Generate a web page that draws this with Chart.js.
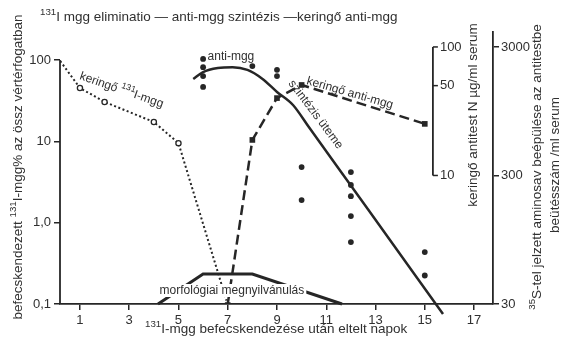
<!DOCTYPE html>
<html lang="hu">
<head>
<meta charset="utf-8">
<title>131I mgg eliminatio</title>
<script src="https://cdn.jsdelivr.net/npm/chart.js@4/dist/chart.umd.min.js"></script>
<style>
  html, body { margin: 0; padding: 0; background: #fff; }
  #wrap { width: 561px; height: 339px; }
</style>
</head>
<body>
<div id="wrap"><canvas id="chart" width="561" height="339"></canvas></div>
<script>
// days after injection
var xTicks = [1, 3, 5, 7, 9, 11, 13, 15, 17];
var leftTicks = [100, 10, 1, 0.1];
var leftLabels = ['100', '10', '1,0', '0,1'];
var sTicks = [3000, 300, 30];
var nTicks = [100, 50, 10];
var nAxisDay = 15.33;

// keringő 131I-mgg (% of total blood volume)
var iodDays = [0.2, 1, 2, 4, 5, 6.95];
var iodValues = [97, 45.3, 30.5, 17.3, 9.5, 0.11];
var iodMarked = [false, true, true, true, true, false];

// keringő anti-mgg (N µg/ml serum)
var antiDays = [7, 8, 9, 10, 15];
var antiValues = [1.0, 18.9, 40, 50.6, 25.2];

// 35S incorporation into antibody (counts/ml serum)
var dotDays = [6, 6, 6, 6, 8, 9, 9, 10, 10, 12, 12, 12, 12, 12, 15, 15];
var dotValues = [2420, 2090, 1780, 1465, 2130, 1990, 1780, 349, 193, 319, 253, 207, 145, 91, 76, 50];

// anti-mgg curve running into "szintézis üteme" line
var curveDays = [5.6, 6.0, 6.6, 7.2, 7.8, 8.4, 9.0, 9.65, 10.3, 12.7, 15.74];
var curveValues = [1690, 1915, 2060, 2090, 1990, 1700, 1340, 1060, 711, 163, 25.1];

// morphological manifestation band
var morphDays = [4.17, 6.0, 8.0, 11.64];
var morphValues = [0.1, 0.234, 0.234, 0.1];

var INK = '#262626';
var TXT = '#303030';
var FONT = "'Liberation Sans', Arial, sans-serif";

function pts(xs, ys) {
  return xs.map(function (d, i) { return { x: d, y: ys[i] }; });
}

// text with optional superscript runs
function drawRich(ctx, runs, x, y, angle, align, size) {
  ctx.save();
  ctx.translate(x, y);
  ctx.rotate(angle * Math.PI / 180);
  ctx.textAlign = 'left';
  ctx.textBaseline = 'alphabetic';
  ctx.fillStyle = TXT;
  var total = 0;
  runs.forEach(function (r) {
    ctx.font = (r.sup ? size * 0.72 : size) + 'px ' + FONT;
    r.w = ctx.measureText(r.t).width;
    total += r.w;
  });
  var cx = align === 'center' ? -total / 2 : 0;
  runs.forEach(function (r) {
    ctx.font = (r.sup ? size * 0.72 : size) + 'px ' + FONT;
    ctx.fillText(r.t, cx, r.sup ? -size * 0.45 : 0);
    cx += r.w;
  });
  ctx.restore();
  return total;
}

var decor = {
  id: 'decor',
  afterDatasetsDraw: function (chart) {
    var ctx = chart.ctx, s = chart.scales, area = chart.chartArea;
    var X = function (d) { return s.x.getPixelForValue(d); };

    ctx.save();
    ctx.strokeStyle = INK;
    ctx.lineWidth = 1.8;
    // left axis line, from 100 downwards
    ctx.beginPath();
    ctx.moveTo(area.left, s.y.getPixelForValue(100));
    ctx.lineTo(area.left, area.bottom);
    ctx.stroke();

    // inner N axis (keringő antitest)
    var nx = X(nAxisDay);
    ctx.beginPath();
    ctx.moveTo(nx, s.yN.getPixelForValue(nTicks[0]));
    ctx.lineTo(nx, s.yN.getPixelForValue(nTicks[nTicks.length - 1]));
    ctx.stroke();
    ctx.lineWidth = 1.5;
    ctx.font = '13px ' + FONT;
    ctx.fillStyle = TXT;
    ctx.textBaseline = 'middle';
    ctx.textAlign = 'left';
    nTicks.forEach(function (v) {
      var py = s.yN.getPixelForValue(v);
      ctx.beginPath();
      ctx.moveTo(nx, py);
      ctx.lineTo(nx + 5, py);
      ctx.stroke();
      ctx.fillText(String(v), nx + 7, py);
    });

    // morphology label with white box
    ctx.font = '12px ' + FONT;
    var mt = 'morfológiai megnyilvánulás';
    var mw = ctx.measureText(mt).width;
    var mx = X(7.17), my = s.y.getPixelForValue(0.1327);
    ctx.fillStyle = '#fff';
    ctx.fillRect(mx - mw / 2 - 2, my - 10, mw + 4, 13);
    ctx.restore();
    drawRich(ctx, [{ t: mt }], mx, my, 0, 'center', 12);

    // annotations
    drawRich(ctx, [{ t: 'keringő ' }, { t: '131', sup: true }, { t: 'I-mgg' }],
      X(0.96), s.y.getPixelForValue(58.4), 19, 'left', 12);
    drawRich(ctx, [{ t: 'anti-mgg' }], X(7.13), s.y35.getPixelForValue(2553) + 4, 0, 'center', 12);
    drawRich(ctx, [{ t: 'keringő anti-mgg' }], X(10.18), s.yN.getPixelForValue(51.5), 16, 'left', 12);
    drawRich(ctx, [{ t: 'szintézis üteme' }], X(9.45), s.y35.getPixelForValue(1560), 53, 'left', 12);

    // titles
    drawRich(ctx, [{ t: '131', sup: true }, { t: 'I mgg eliminatio — anti-mgg szintézis —keringő anti-mgg' }],
      40, 21, 0, 'left', 13.5);
    drawRich(ctx, [{ t: '131', sup: true }, { t: 'I-mgg befecskendezése után eltelt napok' }],
      145, 333, 0, 'left', 13.5);
    drawRich(ctx, [{ t: 'befecskendezett ' }, { t: '131', sup: true }, { t: 'I-mgg% az össz vértérfogatban' }],
      22, 167, -90, 'center', 13.5);
    drawRich(ctx, [{ t: 'keringő antitest N µg/ml serum' }], 477, 115, -90, 'center', 13.5);
    drawRich(ctx, [{ t: '35', sup: true }, { t: 'S-tel jelzett aminosav beépülése az antitestbe' }],
      541, 167, -90, 'center', 13.5);
    drawRich(ctx, [{ t: 'beütésszám /ml serum' }], 559, 165, -90, 'center', 13.5);
  }
};

var tickFont = { family: FONT, size: 13 };

new Chart(document.getElementById('chart'), {
  type: 'line',
  data: {
    datasets: [
      {
        label: 'keringő 131I-mgg',
        yAxisID: 'y',
        data: pts(iodDays, iodValues),
        borderColor: INK,
        borderWidth: 2,
        borderDash: [2, 2.5],
        pointRadius: iodMarked.map(function (m) { return m ? 2.6 : 0; }),
        pointBackgroundColor: '#fff',
        pointBorderColor: INK,
        pointBorderWidth: 1.3,
        tension: 0
      },
      {
        label: 'keringő anti-mgg',
        yAxisID: 'yN',
        data: pts(antiDays, antiValues),
        borderColor: INK,
        borderWidth: 2.5,
        borderDash: [10, 5],
        pointStyle: antiDays.map(function (d, i) { return i === 0 ? 'triangle' : 'rect'; }),
        rotation: antiDays.map(function (d, i) { return i === 0 ? 180 : 0; }),
        pointRadius: antiDays.map(function (d, i) { return i === 0 ? 3.5 : 4; }),
        pointBackgroundColor: INK,
        pointBorderColor: INK,
        pointBorderWidth: 0,
        tension: 0
      },
      {
        label: 'szintézis',
        yAxisID: 'y35',
        data: pts(dotDays, dotValues),
        showLine: false,
        pointRadius: 2.9,
        pointBackgroundColor: INK,
        pointBorderWidth: 0
      },
      {
        label: 'anti-mgg',
        yAxisID: 'y35',
        data: pts(curveDays, curveValues),
        borderColor: INK,
        borderWidth: 2.5,
        pointRadius: 0,
        cubicInterpolationMode: 'monotone',
        clip: false
      },
      {
        label: 'morfológiai megnyilvánulás',
        yAxisID: 'y',
        data: pts(morphDays, morphValues),
        borderColor: INK,
        borderWidth: 3,
        pointRadius: 0,
        tension: 0,
        clip: false
      }
    ]
  },
  options: {
    responsive: false,
    animation: false,
    layout: { padding: { top: 32, left: 0, right: 0, bottom: 0 } },
    plugins: { legend: { display: false }, tooltip: { enabled: false } },
    scales: {
      x: {
        type: 'linear',
        min: 0.19,
        max: 17.77,
        afterBuildTicks: function (sc) { sc.ticks = xTicks.map(function (v) { return { value: v }; }); },
        afterFit: function (sc) { sc.height = 35; },
        grid: { display: true, drawOnChartArea: false, drawTicks: true, tickLength: 6, color: INK, lineWidth: 1.5 },
        border: { display: true, color: INK, width: 1.8 },
        ticks: { font: tickFont, color: TXT, padding: 3, maxRotation: 0, autoSkip: false }
      },
      y: {
        type: 'logarithmic',
        position: 'left',
        min: 0.1,
        max: 221,
        afterBuildTicks: function (sc) { sc.ticks = leftTicks.map(function (v) { return { value: v }; }); },
        afterFit: function (sc) { sc.width = 60; },
        grid: { display: true, drawOnChartArea: false, drawTicks: true, tickLength: 6, color: INK, lineWidth: 1.5 },
        border: { display: false },
        ticks: {
          font: tickFont, color: TXT, padding: 3, autoSkip: false,
          callback: function (v) { return leftLabels[leftTicks.indexOf(v)]; }
        }
      },
      y35: {
        type: 'logarithmic',
        position: 'right',
        min: 30,
        max: 3922,
        afterBuildTicks: function (sc) { sc.ticks = sTicks.map(function (v) { return { value: v }; }); },
        afterFit: function (sc) { sc.width = 68; },
        grid: { display: true, drawOnChartArea: false, drawTicks: true, tickLength: 6, color: INK, lineWidth: 1.5 },
        border: { display: true, color: INK, width: 1.8 },
        ticks: {
          font: tickFont, color: TXT, padding: 2, autoSkip: false,
          callback: function (v) { return String(v); }
        }
      },
      yN: {
        type: 'logarithmic',
        display: false,
        min: 1,
        max: 130.7
      }
    }
  },
  plugins: [decor]
});
</script>
</body>
</html>
